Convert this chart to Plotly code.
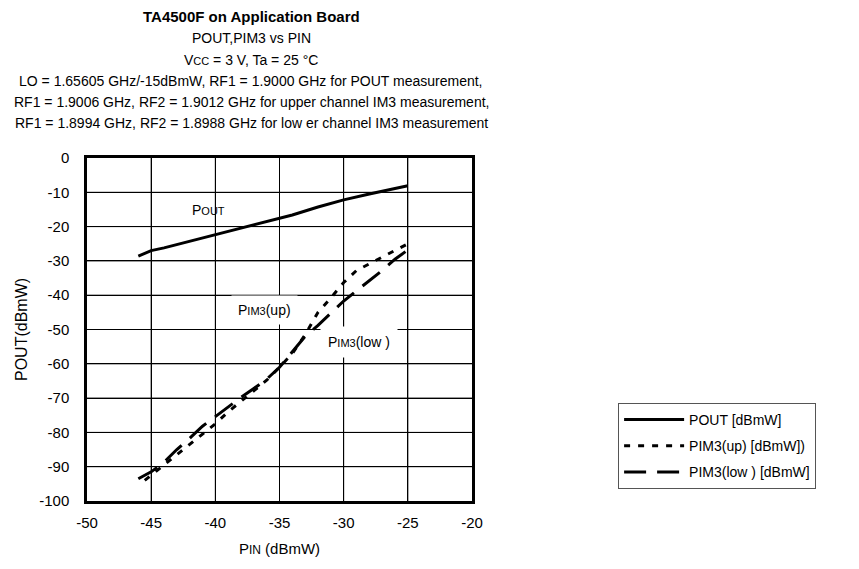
import plotly.graph_objects as go

pin_out = [-46, -45, -44, -42, -40, -38, -36, -35, -34, -32, -30, -28, -26, -25]
pout = [-28.6, -27.0, -26.2, -24.3, -22.5, -20.5, -18.6, -17.6, -16.6, -14.3, -12.2, -10.5, -9.0, -8.1]

pin_up = [-45.5, -45, -44, -43, -42, -41, -40, -39, -38, -37, -36, -35, -34, -33, -32, -31, -30, -29, -28, -27, -26, -25]
pim3_up = [-94, -92.5, -89.5, -86.5, -83.5, -80.5, -77.5, -74, -71, -67.8, -64.8, -61, -57, -51.5, -45, -40.8, -36.3, -32.8, -30.9, -29, -27.1, -25]

pin_low = [-46, -45, -44, -43, -42, -41, -40, -39, -38, -37, -36, -35, -34, -33, -32, -31, -30, -29, -28, -27, -26, -25]
pim3_low = [-93.5, -91.5, -88.7, -85, -81.7, -78.2, -75.4, -72.5, -69.8, -67.2, -64.5, -61, -56.5, -52, -48.8, -45.2, -41.7, -38.7, -35.8, -32.8, -29.5, -26.8]

x_ticks = [-50, -45, -40, -35, -30, -25, -20]
y_ticks = [0, -10, -20, -30, -40, -50, -60, -70, -80, -90, -100]

FONT = "Liberation Sans, Arial, sans-serif"


def sc(t, size=11):
    return "<span style='font-size:%dpx'>%s</span>" % (size, t)


fig = go.Figure()
fig.add_trace(go.Scatter(x=pin_out, y=pout, mode="lines", name="POUT [dBmW]", legendgroup="a",
                         line=dict(color="black", width=3)))
fig.add_trace(go.Scatter(x=pin_up, y=pim3_up, mode="lines", name="PIM3(up) [dBmW])", legendgroup="b",
                         line=dict(color="black", width=3, dash="6px,8px")))
fig.add_trace(go.Scatter(x=pin_low, y=pim3_low, mode="lines", name="PIM3(low ) [dBmW]", legendgroup="c",
                         line=dict(color="black", width=3, dash="22px,11px")))

# grid lines at the tick positions
for v in x_ticks[1:-1]:
    fig.add_vline(x=v, line=dict(color="black", width=1), layer="below")
for v in y_ticks[1:-1]:
    fig.add_hline(y=v, line=dict(color="black", width=1), layer="below")

axis_common = dict(showgrid=True, gridcolor="black", gridwidth=1, griddash="solid",
                   showline=True, linecolor="black", linewidth=2.5, mirror=True,
                   zeroline=False, ticks="",
                   tickfont=dict(size=15, color="black", family=FONT))
fig.update_xaxes(range=[-50, -20], tickvals=x_ticks, ticktext=[str(v) for v in x_ticks],
                 ticklabelstandoff=6,
                 title=dict(text="P" + sc("IN", 12) + " (dBmW)",
                            font=dict(size=15, color="black", family=FONT), standoff=14),
                 **axis_common)
fig.update_yaxes(range=[-100, 0], tickvals=y_ticks, ticktext=[str(v) for v in y_ticks],
                 ticklabelstandoff=12,
                 title=dict(text="POUT(dBmW)", font=dict(size=16, color="black", family=FONT), standoff=8),
                 **axis_common)

title_lines = [
    ("<b>TA4500F on Application Board</b>", 1.412, 15),
    ("POUT,PIM3 vs PIN", 1.350, 14),
    ("V" + sc("CC", 11) + " = 3 V, Ta = 25 °C", 1.286, 14),
    ("LO = 1.65605 GHz/-15dBmW, RF1 = 1.9000 GHz for POUT measurement,", 1.224, 14),
    ("RF1 = 1.9006 GHz, RF2 = 1.9012 GHz for upper channel IM3 measurement,", 1.163, 14),
    ("RF1 = 1.8994 GHz, RF2 = 1.8988 GHz for low er channel IM3 measurement", 1.102, 14),
]
for txt, yy, sz in title_lines:
    fig.add_annotation(text=txt, xref="paper", yref="paper", x=0.426, y=yy,
                       showarrow=False, xanchor="center", yanchor="middle",
                       font=dict(size=sz, color="black", family=FONT))

fig.add_annotation(text="P" + sc("OUT", 11), x=-40.5, y=-15.2, showarrow=False,
                   font=dict(size=14, color="black", family=FONT))
fig.add_annotation(text="P" + sc("IM3", 11) + "(up)", x=-36.2, y=-44.2, showarrow=False,
                   bgcolor="white", borderpad=6, font=dict(size=14, color="black", family=FONT))
fig.add_annotation(text="P" + sc("IM3", 11) + "(low )", x=-28.8, y=-53.6, showarrow=False,
                   bgcolor="white", borderpad=7, font=dict(size=14, color="black", family=FONT))

fig.update_layout(
    width=859, height=569,
    margin=dict(l=74, r=395, t=150, b=76),
    paper_bgcolor="white", plot_bgcolor="white",
    font=dict(family=FONT, color="black", size=14),
    showlegend=True,
    legend=dict(x=1.3795, y=0.2857, xanchor="left", yanchor="top",
                bordercolor="#555", borderwidth=1, bgcolor="white",
                font=dict(size=14, color="black", family=FONT),
                itemwidth=60, tracegroupgap=5),
)

fig.write_html("out.html")
